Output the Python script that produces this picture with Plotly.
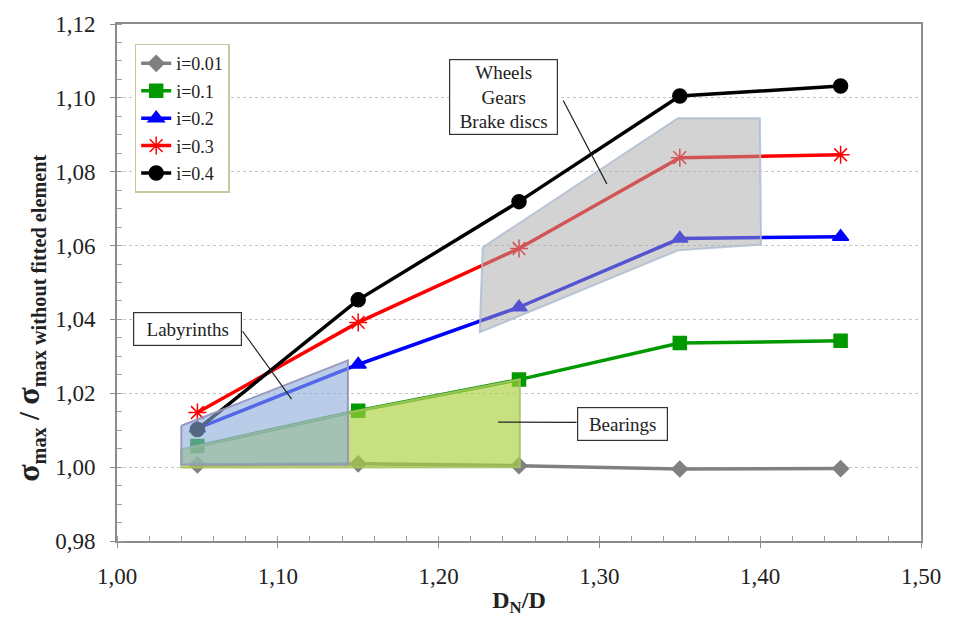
import plotly.graph_objects as go

# Ratio of peak stress with / without a fitted element vs. diameter ratio D_N/D
dn_d = [1.05, 1.15, 1.25, 1.35, 1.45]

i_001 = [1.0006, 1.0009, 1.0004, 0.9995, 0.9996]
i_01 = [1.0057, 1.0153, 1.0237, 1.0336, 1.0342]
i_02 = [1.0105, 1.0278, 1.0433, 1.0619, 1.0624]
i_03 = [1.0148, 1.0392, 1.0592, 1.0838, 1.0846]
i_04 = [1.0102, 1.0453, 1.0719, 1.1005, 1.1032]

series_names = ["i=0.01", "i=0.1", "i=0.2", "i=0.3", "i=0.4"]

# Application zones (polygon outlines in data coordinates)
lab_x = [1.040, 1.040, 1.1436, 1.1436, 1.040]
lab_y = [1.0112, 1.0007, 1.0007, 1.0289, 1.0112]

bear_x = [1.040, 1.040, 1.2505, 1.2505, 1.1436, 1.040]
bear_y = [1.0048, 0.9999, 1.0000, 1.0238, 1.0148, 1.0048]

wheel_x = [1.2274, 1.3488, 1.3998, 1.4005, 1.3488, 1.2256, 1.2274]
wheel_y = [1.0595, 1.0945, 1.0945, 1.0603, 1.0587, 1.0365, 1.0595]

SERIF = "Liberation Serif"
INK = "#222222"

fig = go.Figure()

styles = [
    dict(color="#808080", symbol="diamond", size=12),
    dict(color="#009900", symbol="square", size=13),
    dict(color="#0000ff", symbol="triangle-up", size=14),
    dict(color="#ff0000", symbol="asterisk-open", size=15),
    dict(color="#000000", symbol="circle", size=14),
]
for name, ys, st in zip(series_names, [i_001, i_01, i_02, i_03, i_04], styles):
    fig.add_trace(go.Scatter(
        x=dn_d, y=ys, name=name, legendgroup=name, mode="lines+markers",
        line=dict(color=st["color"], width=3.5),
        marker=dict(symbol=st["symbol"], size=st["size"], color=st["color"],
                    line=dict(color=st["color"], width=1.5)),
    ))

# Translucent zones drawn over the curves
fig.add_trace(go.Scatter(
    x=bear_x, y=bear_y, mode="lines", fill="toself", showlegend=False, hoverinfo="skip",
    fillcolor="rgba(172,210,62,0.66)", line=dict(color="rgba(165,195,100,0.9)", width=2),
))
fig.add_trace(go.Scatter(
    x=lab_x, y=lab_y, mode="lines", fill="toself", showlegend=False, hoverinfo="skip",
    fillcolor="rgba(140,172,216,0.6)", line=dict(color="rgba(150,150,190,0.95)", width=2),
))
fig.add_trace(go.Scatter(
    x=wheel_x, y=wheel_y, mode="lines", fill="toself", showlegend=False, hoverinfo="skip",
    fillcolor="rgba(168,168,168,0.5)", line=dict(color="rgba(170,188,208,0.8)", width=2),
))

# Callout boxes and their leader lines
callouts = [
    dict(text="Wheels<br>Gears<br>Brake discs", x=1.2402, y=1.1001, w=107, h=74,
         line=(1.2775, 1.0993, 1.3046, 1.0767)),
    dict(text="Labyrinths", x=1.0436, y=1.0375, w=107, h=32,
         line=(1.0781, 1.0368, 1.1086, 1.0184)),
    dict(text="Bearings", x=1.3146, y=1.0118, w=89, h=32,
         line=(1.2370, 1.0122, 1.2858, 1.0121)),
]
for c in callouts:
    x0, y0, x1, y1 = c["line"]
    fig.add_shape(type="line", x0=x0, y0=y0, x1=x1, y1=y1, xref="x", yref="y",
                  line=dict(color=INK, width=1.2), layer="above")
    fig.add_annotation(x=c["x"], y=c["y"], xref="x", yref="y", text=c["text"],
                       showarrow=False, width=c["w"], height=c["h"],
                       bgcolor="white", bordercolor="#333333", borderwidth=1.2,
                       borderpad=0, font=dict(family=SERIF, size=19, color=INK),
                       align="center", valign="middle")

# Vertical axis title, placed as a rotated label left of the tick labels
fig.add_annotation(
    xref="paper", yref="paper", x=-0.108, y=0.43, xanchor="center", yanchor="middle",
    textangle=-90, showarrow=False,
    text=("<b><span style=\"font-size:32px\">σ</span><sub>max</sub> / "
          "<span style=\"font-size:32px\">σ</span>"
          "<sub>max without fitted element</sub></b>"),
    font=dict(family=SERIF, size=29, color=INK),
)

axis_common = dict(
    showline=True, linecolor="#8c8c8c", linewidth=2, mirror=True,
    ticks="outside", ticklen=5, tickcolor="#8c8c8c", tickwidth=1,
    tickfont=dict(family=SERIF, size=23, color=INK),
    tickformat=".2f", zeroline=False,
)

fig.update_xaxes(
    range=[1.0, 1.5], dtick=0.1, tick0=1.0, showgrid=False,
    minor=dict(dtick=0.02, ticks="inside", ticklen=5, tickcolor="#a0a0a0", showgrid=False),
    title=dict(text="<b>D<sub>N</sub>/D</b>", font=dict(family=SERIF, size=24, color=INK),
               standoff=4),
    ticklabelstandoff=8,
    **axis_common,
)
fig.update_yaxes(
    range=[0.98, 1.12], dtick=0.02, tick0=0.98,
    showgrid=True, gridcolor="#c4c4c4", gridwidth=1, griddash="3px,3px",
    minor=dict(dtick=0.005, ticks="inside", ticklen=5, tickcolor="#a0a0a0", showgrid=False),
    ticklabelstandoff=10,
    **axis_common,
)

fig.update_layout(
    width=959, height=621,
    margin=dict(l=117, r=38, t=19, b=74),
    paper_bgcolor="white", plot_bgcolor="white",
    separators=",.",
    font=dict(family=SERIF, color=INK),
    legend=dict(
        x=0.022, y=0.962, xanchor="left", yanchor="top",
        bgcolor="white", bordercolor="#c2caa0", borderwidth=1.5,
        font=dict(family=SERIF, size=18, color=INK),
        itemwidth=30, tracegroupgap=1,
    ),
    showlegend=True,
)

fig.write_html("out.html")
